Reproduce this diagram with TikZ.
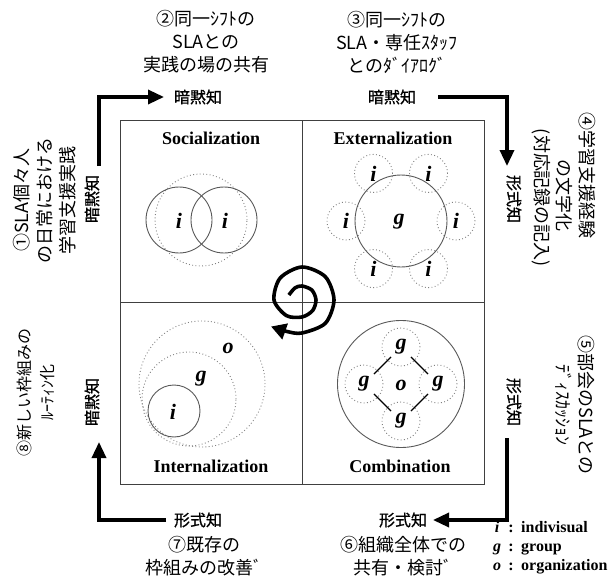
\documentclass[tikz,border=0pt]{standalone}
\usepackage{fontspec}
\setmainfont{Liberation Serif}
\newfontfamily\jp{Noto Sans CJK JP}
\newfontfamily\jpm{Noto Sans CJK JP}[FakeBold=0.8]
\usetikzlibrary{arrows.meta,calc}
\begin{document}
\begin{tikzpicture}[x=1pt,y=-1pt,
  frame/.style={draw=black!75, line width=0.9pt},
  solidc/.style={circle, draw=black!65, line width=0.9pt, inner sep=0pt},
  dotc/.style={circle, draw=black!50, line width=0.9pt, dash pattern=on 0.9pt off 2.4pt, inner sep=0pt},
  ttl/.style={font=\fontsize{18}{20}\selectfont\bfseries},
  lett/.style={font=\fontsize{22}{24}\selectfont\bfseries\itshape, inner sep=0pt},
  jtxt/.style={font=\jp\fontsize{18}{23}\selectfont, align=center, inner sep=0pt},
  klabel/.style={font=\jpm\fontsize{16}{18}\selectfont, inner sep=0pt},
  bigarrow/.style={line width=3.4pt, -{Triangle[length=16pt,width=14pt]}},
  leg/.style={font=\fontsize{16}{18}\selectfont\bfseries, inner sep=0pt}
]
\useasboundingbox (0,0) rectangle (611,578);

% frame
\draw[frame] (120,120) rectangle (484,484);
\draw[frame] (302,120) -- (302,484);
\draw[frame] (120,302) -- (484,302);

% titles
\node[ttl] (tS) at (211,138) {Socialization};
\node[ttl] (tE) at (393,138) {Externalization};
\node[ttl] (tI) at (211,466) {Internalization};
\node[ttl] (tC) at (400,466) {Combination};

% Socialization
\node[dotc, minimum size=92pt] (sd) at (201,220) {};
\node[solidc, minimum size=66pt] (s1) at (179,220) {};
\node[solidc, minimum size=66pt] (s2) at (224,220) {};
\node[lett] (si1) at (179,221) {i};
\node[lett] (si2) at (225,221) {i};

% Externalization
\node[dotc, minimum size=38pt] (e1) at (456,221) {};
\node[dotc, minimum size=38pt] (e2) at (428.5,173.4) {};
\node[dotc, minimum size=38pt] (e3) at (373.5,173.4) {};
\node[dotc, minimum size=38pt] (e4) at (346,221) {};
\node[dotc, minimum size=38pt] (e5) at (373.5,268.6) {};
\node[dotc, minimum size=38pt] (e6) at (428.5,268.6) {};
\node[solidc, minimum size=92pt] (eg) at (401,221) {};
\node[lett] (egl) at (399,222) {g};
\foreach \n in {1,...,6} { \node[lett] (ei\n) at (e\n) {i}; }

% Internalization
\node[dotc, minimum size=126pt] (io) at (202,384) {};
\node[dotc, minimum size=94pt] (ig) at (189,399) {};
\node[solidc, minimum size=52pt] (ii) at (174,411) {};
\node[lett] (iol) at (228,348) {o};
\node[lett] (igl) at (201,379) {g};
\node[lett] (iil) at (173,412) {i};

% Combination
\node[solidc, minimum size=127pt] (co) at (401,384) {};
\node[dotc, minimum size=38pt] (ct) at (401,347) {};
\node[dotc, minimum size=38pt] (cl) at (364,384) {};
\node[dotc, minimum size=38pt] (cr) at (438,384) {};
\node[dotc, minimum size=38pt] (cb) at (401,421) {};
\node[lett] (col) at (401,385) {o};
\foreach \n in {t,l,r,b} { \node[lett] (cg\n) at (c\n) {g}; }
\foreach \a/\b in {t/l,t/r,b/l,b/r} {
  \draw[line width=1.1pt] ($(c\a)!14pt!(c\b)$) -- ($(c\b)!14pt!(c\a)$);
}

% spiral
\draw[line width=3.6pt, -{Triangle[length=15pt,width=16pt]}]
  plot[smooth] coordinates {(288.9,295.0) (295,287.9) (302,286) (311.9,290.1) (316,300)
  (312.6,310.6) (302,317) (286.4,315.6) (274,300) (280.1,278.1) (302,267) (325.3,276.7)
  (334,300) (325.3,323.3) (302,333) (287,331.5) (271,326.5)};

% outer arrows
\coordinate (a1s) at (99,166); \coordinate (a1c) at (99,97); \coordinate (a1e) at (164,97);
\coordinate (a2s) at (438,97); \coordinate (a2c) at (507,97); \coordinate (a2e) at (507,166);
\coordinate (a3s) at (507,438); \coordinate (a3c) at (507,520); \coordinate (a3e) at (433,520);
\coordinate (a4s) at (166,520); \coordinate (a4c) at (99,520); \coordinate (a4e) at (99,442);
\draw[bigarrow] (a1s) -- (a1c) -- (a1e);
\draw[bigarrow] (a2s) -- (a2c) -- (a2e);
\draw[bigarrow] (a3s) -- (a3c) -- (a3e);
\draw[bigarrow] (a4s) -- (a4c) -- (a4e);

% arrow labels
\node[klabel] (k1) at (198,97) {暗黙知};
\node[klabel] (k2) at (392,97) {暗黙知};
\node[klabel, rotate=-90] (k3) at (514,199) {形式知};
\node[klabel, rotate=-90] (k4) at (514,402) {形式知};
\node[klabel] (k5) at (403,520) {形式知};
\node[klabel] (k6) at (198,520) {形式知};
\node[klabel, rotate=90] (k7) at (92,402) {暗黙知};
\node[klabel, rotate=90] (k8) at (92,199) {暗黙知};

% step texts
\node[jtxt] (t2) at (206,42) {②同一ｼﾌﾄの\\SLAとの\\実践の場の共有};
\node[jtxt] (t3) at (397,42) {③同一ｼﾌﾄの\\SLA・専任ｽﾀｯﾌ\\とのﾀﾞｲｱﾛｸﾞ};
\node[jtxt, rotate=90] (t1) at (45,200) {①SLA個々人\\の日常における\\学習支援実践};
\node[jtxt, rotate=-90] (t4a) at (587,176) {④学習支援経験};
\node[jtxt, rotate=-90] (t4b) at (564,195) {の文字化};
\node[jtxt, rotate=-90] (t4c) at (541,198) {(対応記録の記入)};
\node[jtxt, rotate=-90] (t5) at (575,405) {⑤部会のSLAとの\\ﾃﾞｨｽｶｯｼｮﾝ};
\node[jtxt] (t6) at (403,556) {⑥組織全体での\\共有・検討ﾞ};
\node[jtxt] (t7) at (204,556) {⑦既存の\\枠組みの改善ﾞ};
\node[jtxt, rotate=90, font=\jp\fontsize{16}{23}\selectfont] (t8) at (36,392) {⑧新しい枠組みの\\ﾙｰﾃｨﾝ化};

% legend
\node[leg, anchor=base] (l1a) at (497,532) {\textit{i}};
\node[leg, anchor=base] (l1b) at (511,532) {:};
\node[leg, anchor=base west] (l1c) at (521,532) {indivisual};
\node[leg, anchor=base] (l2a) at (497,551) {\textit{g}};
\node[leg, anchor=base] (l2b) at (511,551) {:};
\node[leg, anchor=base west] (l2c) at (521,551) {group};
\node[leg, anchor=base] (l3a) at (497,570) {\textit{o}};
\node[leg, anchor=base] (l3b) at (511,570) {:};
\node[leg, anchor=base west] (l3c) at (521,570) {organization};
\end{tikzpicture}
\end{document}
